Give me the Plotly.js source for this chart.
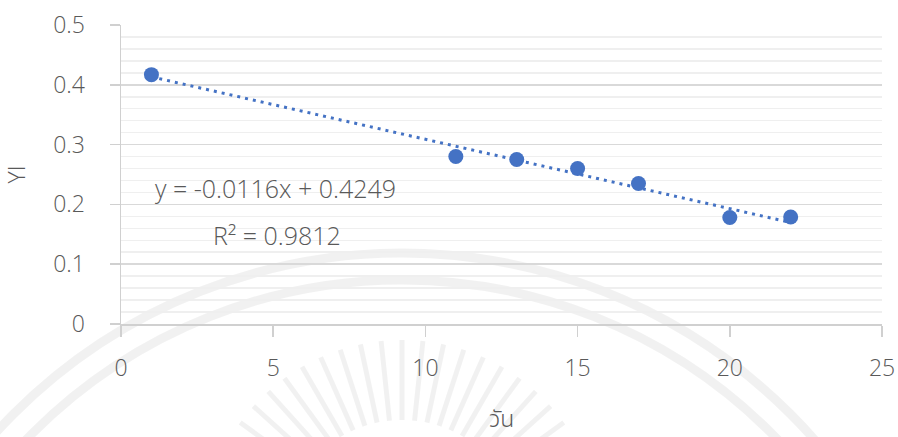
<!DOCTYPE html>
<html><head><meta charset="utf-8">
<script src="https://cdn.plot.ly/plotly-3.0.1.min.js"></script>
<style>html,body{margin:0;padding:0;background:#fff}#chart{width:898px;height:437px}</style>
</head><body><div id="chart"></div>
<script>
const days = [1, 11, 13, 15, 17, 20, 22];
const yi = [0.417, 0.280, 0.275, 0.260, 0.235, 0.178, 0.179];
const slope = -0.0116;
const intercept = 0.4249;
const r2 = 0.9812;
const trendX = [1, 22];
const xTicks = [0, 5, 10, 15, 20, 25];
const yTicks = [0, 0.1, 0.2, 0.3, 0.4, 0.5];
const yTickLabels = ['0', '0.1', '0.2', '0.3', '0.4', '0.5'];
const xTitle = 'วัน';

const trendY = trendX.map(x => slope * x + intercept);
const font = "'Open Sans', 'Noto Sans', sans-serif";
const txt = '#595959';
const W = 300;

// faint watermark (decorative): two arcs and a sunburst, in pixel space converted to paper coords
const PL = 121, PW = 761, PT = 25, PH = 299;
const px2x = p => (p - PL) / PW;
const px2y = p => (PT + PH - p) / PH;
const wm = 'rgba(0,0,0,0.055)';
const shapes = [];
[[402, 802, 549], [402, 802, 522]].forEach(([cx, cy, r]) => {
  shapes.push({type: 'circle', xref: 'paper', yref: 'paper', layer: 'below',
    x0: px2x(cx - r), x1: px2x(cx + r), y0: px2y(cy + r), y1: px2y(cy - r),
    line: {color: wm, width: 9}});
});
for (let a = 18; a <= 162; a += 6) {
  const t = a * Math.PI / 180, cx = 402, cy = 540;
  shapes.push({type: 'line', xref: 'paper', yref: 'paper', layer: 'below',
    x0: px2x(cx + 120 * Math.cos(t)), y0: px2y(cy - 120 * Math.sin(t)),
    x1: px2x(cx + 200 * Math.cos(t)), y1: px2y(cy - 200 * Math.sin(t)),
    line: {color: wm, width: 5}});
}

const data = [
  {x: trendX, y: trendY, mode: 'lines', line: {color: '#4472C4', width: 3, dash: '3px,5px'}, hoverinfo: 'skip'},
  {x: days, y: yi, mode: 'markers', marker: {color: '#4472C4', size: 15}}
];

const layout = {
  width: 898, height: 437,
  margin: {l: 121, r: 16, t: 25, b: 113},
  showlegend: false,
  paper_bgcolor: '#fff', plot_bgcolor: 'rgba(0,0,0,0)',
  font: {family: font, color: txt, size: 23, weight: W},
  shapes: shapes,
  xaxis: {
    range: [0, 25], tickvals: xTicks, ticktext: xTicks.map(String),
    showgrid: false, zeroline: false,
    showline: true, linecolor: '#d0d0d0', linewidth: 1.5,
    ticks: 'outside', ticklen: 11, tickcolor: '#d0d0d0', tickwidth: 1.5,
    ticklabelstandoff: 12,
    tickfont: {size: 23, color: txt, family: font, weight: W}
  },
  yaxis: {
    range: [0, 0.5], tickvals: yTicks, ticktext: yTickLabels,
    showgrid: true, gridcolor: '#d9d9d9', gridwidth: 1.5,
    zeroline: false,
    showline: true, linecolor: '#d0d0d0', linewidth: 1.5,
    ticks: 'outside', ticklen: 10, tickcolor: '#d0d0d0', tickwidth: 1.5,
    ticklabelstandoff: 20,
    minor: {dtick: 0.02, showgrid: true, gridcolor: '#efefef', gridwidth: 1.5},
    tickfont: {size: 23, color: txt, family: font, weight: W},
    title: {text: 'YI', font: {size: 23, color: txt, family: font, weight: W}, standoff: 40}
  },
  annotations: [
    {xref: 'paper', yref: 'paper', x: px2x(501), y: px2y(437), xanchor: 'center', yanchor: 'bottom', yshift: -2, text: xTitle, showarrow: false,
     font: {size: 23, color: txt, family: "'Noto Sans Thai', 'Noto Sans', sans-serif", weight: W}},
    {xref: 'x', yref: 'y', x: 5.09, y: 0.2274, text: 'y = ' + slope + 'x + ' + intercept, showarrow: false, font: {size: 25, color: txt, family: font, weight: W}},
    {xref: 'x', yref: 'y', x: 5.12, y: 0.149, text: 'R² = ' + r2, showarrow: false, font: {size: 25, color: txt, family: font, weight: W}}
  ]
};

Plotly.newPlot('chart', data, layout, {displayModeBar: false, staticPlot: true});
</script>
</body></html>
